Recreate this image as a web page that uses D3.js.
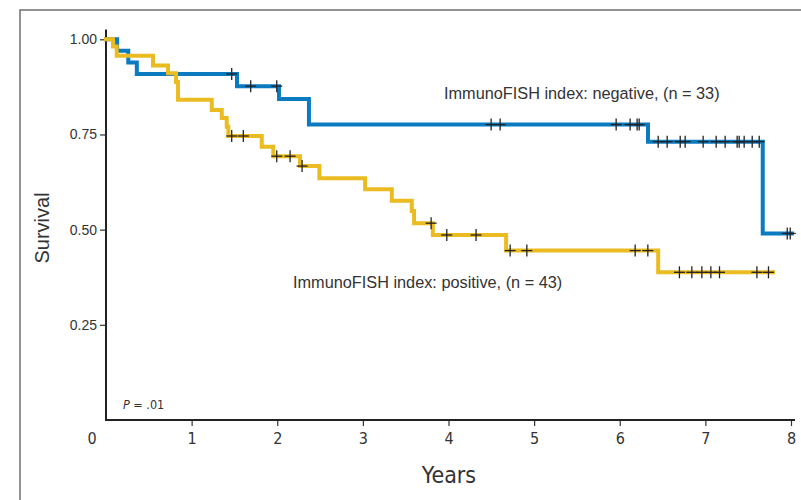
<!DOCTYPE html>
<html>
<head>
<meta charset="utf-8">
<script src="https://cdn.jsdelivr.net/npm/d3@7"></script>
<style>
  html, body { margin: 0; padding: 0; background: #fff; }
  svg { display: block; }
  .cond { font-family: "Liberation Sans Narrow", "DejaVu Sans Condensed", "Roboto Condensed", "Liberation Sans", Arial, sans-serif; font-stretch: condensed; }
</style>
</head>
<body>
<svg id="chart" width="801" height="500"></svg>
<script>
// ---- Data ----
const xTicks = [1, 2, 3, 4, 5, 6, 7, 8];
const yTicks = [0.25, 0.50, 0.75, 1.00];

// Negative group (blue), n = 33: step times (years) and survival after each step
const negTimes = [0, 0.13, 0.26, 0.36, 1.53, 2.02, 2.37, 6.33, 7.67];
const negSurv  = [1.00, 0.970, 0.939, 0.909, 0.877, 0.843, 0.776, 0.731, 0.490];
const negEnd = 8.01;
const negCensor = [1.468, 1.690, 1.994, 4.498, 4.603, 5.958, 6.121, 6.203, 6.227,
                   6.449, 6.554, 6.706, 6.764, 6.974, 7.126, 7.231, 7.371, 7.395,
                   7.453, 7.547, 7.629, 7.956, 7.991];

// Positive group (yellow), n = 43
const posTimes = [0, 0.082, 0.125, 0.549, 0.724, 0.818, 0.841, 1.235, 1.352, 1.410,
                  1.429, 1.819, 1.954, 2.266, 2.492, 3.026, 3.338, 3.571, 3.598,
                  3.817, 4.673, 6.449];
const posSurv  = [1.00, 0.981, 0.957, 0.931, 0.911, 0.888, 0.841, 0.814, 0.793, 0.770,
                  0.746, 0.718, 0.693, 0.667, 0.635, 0.606, 0.576, 0.549, 0.517,
                  0.486, 0.445, 0.388];
const posEnd = 7.79;
const posCensor = [1.468, 1.604, 1.994, 2.150, 2.290, 3.797, 3.980, 4.322, 4.720,
                   4.915, 6.180, 6.328, 6.697, 6.842, 6.959, 7.064, 7.165, 7.602, 7.737];

const negLabel = "ImmunoFISH index: negative, (n = 33)";
const posLabel = "ImmunoFISH index: positive, (n = 43)";

// ---- Layout ----
const svg = d3.select("#chart");
const x = d3.scaleLinear().domain([0, 8]).range([106, 791]);
const y = d3.scaleLinear().domain([0, 1]).range([420, 39.3]);

// Figure frame (top and left border)
svg.append("path")
  .attr("d", "M20,500 L20,10 L801,10")
  .attr("fill", "none").attr("stroke", "#6f6f6f").attr("stroke-width", 1.5);

// Y axis
const yAxis = d3.axisLeft(y).tickValues(yTicks).tickFormat(d3.format(".2f"))
  .tickSize(6).tickSizeOuter(0);
const gy = svg.append("g").attr("transform", "translate(106,0)").call(yAxis);
gy.select(".domain").remove();
gy.selectAll(".tick line").attr("stroke", "#333").attr("stroke-width", 1.2);
gy.selectAll(".tick text").attr("fill", "#333").attr("font-size", 14)
  .attr("font-family", "Liberation Sans, Arial, sans-serif").attr("x", -9);
svg.append("line").attr("x1", 106).attr("x2", 106).attr("y1", 29.5).attr("y2", 421)
  .attr("stroke", "#222").attr("stroke-width", 2);

// X axis
const xAxis = d3.axisBottom(x).tickValues(xTicks).tickFormat(d3.format("d"))
  .tickSize(6).tickSizeOuter(0);
const gx = svg.append("g").attr("transform", "translate(0,420)").call(xAxis);
gx.select(".domain").remove();
gx.selectAll(".tick line").attr("stroke", "#333").attr("stroke-width", 1.2);
gx.selectAll(".tick text").attr("fill", "#333").attr("font-size", 16)
  .attr("class", "cond").attr("dy", "0").attr("y", 24);
svg.append("line").attr("x1", 105).attr("x2", 795).attr("y1", 420).attr("y2", 420)
  .attr("stroke", "#222").attr("stroke-width", 2);
svg.append("text").attr("class", "cond").attr("x", 92).attr("y", 444)
  .attr("text-anchor", "middle").attr("font-size", 16).attr("fill", "#333").text("0");

// Axis titles
svg.append("text").attr("class", "cond").attr("x", 449).attr("y", 483)
  .attr("text-anchor", "middle").attr("font-size", 23).attr("fill", "#333").text("Years");
svg.append("text")
  .attr("transform", "translate(49,228) rotate(-90)")
  .attr("text-anchor", "middle").attr("font-size", 20)
  .attr("font-family", "Liberation Sans, Arial, sans-serif")
  .attr("fill", "#333").text("Survival");

// Curves
function stepData(times, surv, end) {
  const pts = times.map((t, i) => [t, surv[i]]);
  pts.push([end, surv[surv.length - 1]]);
  return pts;
}
function survAt(times, surv, t) {
  let s = surv[0];
  for (let i = 0; i < times.length; i++) if (times[i] <= t) s = surv[i];
  return s;
}
const line = d3.line().x(d => x(d[0])).y(d => y(d[1])).curve(d3.curveStepAfter);

const series = [
  { times: negTimes, surv: negSurv, end: negEnd, censor: negCensor, color: "#0b7bc1" },
  { times: posTimes, surv: posSurv, end: posEnd, censor: posCensor, color: "#eabc22" }
];
series.forEach(s => {
  svg.append("path").datum(stepData(s.times, s.surv, s.end))
    .attr("d", line).attr("fill", "none").attr("stroke", s.color)
    .attr("stroke-width", 4).attr("stroke-linejoin", "miter").attr("stroke-linecap", "square");
});
series.forEach(s => {
  const g = svg.append("g");
  s.censor.forEach(t => {
    const cx = x(t), cy = y(survAt(s.times, s.surv, t));
    g.append("line").attr("x1", cx - 5.5).attr("x2", cx + 5.5).attr("y1", cy).attr("y2", cy)
      .attr("stroke", "#222").attr("stroke-width", 1.3);
    g.append("line").attr("x1", cx).attr("x2", cx).attr("y1", cy - 6).attr("y2", cy + 6)
      .attr("stroke", "#222").attr("stroke-width", 1.3);
  });
});

// Labels
svg.append("text").attr("x", 444).attr("y", 99).attr("font-size", 16.3)
  .attr("font-family", "Liberation Sans, Arial, sans-serif").attr("fill", "#333").text(negLabel);
svg.append("text").attr("x", 293).attr("y", 288).attr("font-size", 16.3)
  .attr("font-family", "Liberation Sans, Arial, sans-serif").attr("fill", "#333").text(posLabel);

// P value
const pt = svg.append("text").attr("class", "cond").attr("x", 123).attr("y", 409)
  .attr("font-size", 12.5).attr("fill", "#333");
pt.append("tspan").attr("font-style", "italic").text("P");
pt.append("tspan").text(" = .01");
</script>
</body>
</html>
